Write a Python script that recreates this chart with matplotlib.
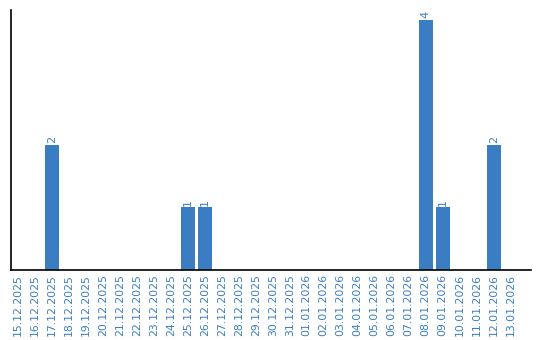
import matplotlib
matplotlib.use("Agg")
import matplotlib.pyplot as plt
import numpy as np

# daily counts, 15.12.2025 - 13.01.2026
dates = ["15.12.2025", "16.12.2025", "17.12.2025", "18.12.2025", "19.12.2025",
         "20.12.2025", "21.12.2025", "22.12.2025", "23.12.2025", "24.12.2025",
         "25.12.2025", "26.12.2025", "27.12.2025", "28.12.2025", "29.12.2025",
         "30.12.2025", "31.12.2025", "01.01.2026", "02.01.2026", "03.01.2026",
         "04.01.2026", "05.01.2026", "06.01.2026", "07.01.2026", "08.01.2026",
         "09.01.2026", "10.01.2026", "11.01.2026", "12.01.2026", "13.01.2026"]
counts = [0, 0, 2, 0, 0, 0, 0, 0, 0, 0,
          1, 1, 0, 0, 0, 0, 0, 0, 0, 0,
          0, 0, 0, 0, 4, 1, 0, 0, 2, 0]

bar_color = "#3a7dc2"
text_color = "#3b7ec0"

fig = plt.figure(figsize=(5.4, 3.4), dpi=100)
ax = fig.add_axes([0.0204, 0.206, 0.9630, 0.7646])

x = np.arange(len(dates))
ax.bar(x, counts, width=0.82, color=bar_color)

# value labels above the non-zero bars
for xi, c in zip(x, counts):
    if c > 0:
        ax.text(xi, c + 0.03, str(c), rotation=90, ha="center", va="bottom",
                fontsize=8, color=text_color)

ax.set_xlim(-0.4, 30.2)
ax.set_ylim(0, 4.16)
ax.set_xticks(x)
ax.set_xticklabels(dates, rotation=90, fontsize=7.8, color=text_color)
ax.tick_params(axis="x", length=0, pad=3)
ax.set_yticks([])
ax.spines["top"].set_visible(False)
ax.spines["right"].set_visible(False)
ax.spines["left"].set_linewidth(1.2)
ax.spines["bottom"].set_linewidth(1.2)

fig.savefig("out.png", dpi=100)
